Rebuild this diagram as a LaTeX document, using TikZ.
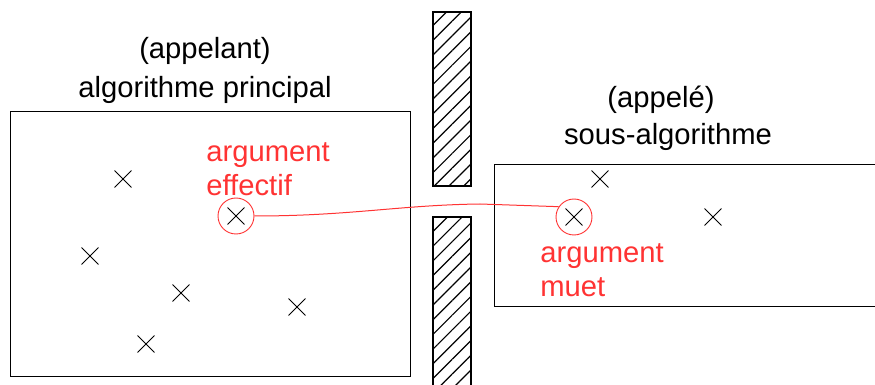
\documentclass[tikz,border=0pt]{standalone}
\usepackage{fontspec}
\setmainfont{Liberation Sans}
\usetikzlibrary{shapes.misc, patterns.meta}
\definecolor{ArgRed}{RGB}{255,51,51}

\begin{document}
\begin{tikzpicture}[x=0.5pt, y=-0.5pt,
          txt/.style={font=\fontsize{14.6}{17}\selectfont, inner sep=0pt},
          argtxt/.style={txt, text=ArgRed, anchor=base west},
          var/.style={cross out, draw, minimum size=8pt, inner sep=0pt,
                      line width=0.45pt},
          arg/.style={circle, draw=ArgRed, minimum size=18pt, inner sep=0pt,
                      line width=0.45pt},
          frame/.style={draw, line width=0.45pt},
          wall/.style={draw, line width=0.55pt,
                       pattern={Lines[angle=45, distance=5.2pt, line width=0.6pt]}}
        ]
        \useasboundingbox (0,0) rectangle (875,385);

        % Caller (left)
        \node[txt, anchor=base] (callerrole) at (205,59) {(appelant)};
        \node[txt, anchor=base] (callername) at (205,98) {algorithme principal};
        \draw[frame] (10,111) rectangle (410,376);
        \foreach \x/\y [count=\i] in {123/179, 90/256, 181/293, 297/307, 146/344} {
          \node[var] (pv\i) at (\x,\y) {};
        }
        \node[arg] (effarg) at (236,216) {};
        \node[var] (effvar) at (effarg) {};
        \node[argtxt] (efftxta) at (206,162) {argument};
        \node[argtxt] (efftxtb) at (206,196) {effectif};

        % Wall with opening
        \draw[wall] (433,12) rectangle (471,186);
        \draw[wall] (433,217) rectangle (471,392);

        % Callee (right)
        \node[txt, anchor=base] (calleerole) at (661,108) {(appelé)};
        \node[txt, anchor=base] (calleename) at (668,145) {sous-algorithme};
        \draw[frame] (880,164) -- (494,164) -- (494,306) -- (880,306);
        \node[var] (sv1) at (600,179) {};
        \node[var] (sv2) at (713,217) {};
        \node[arg] (mutarg) at (574,217) {};
        \node[var] (mutvar) at (mutarg) {};
        \node[argtxt] (muttxta) at (540,263) {argument};
        \node[argtxt] (muttxtb) at (540,297) {muet};

        % Passing the argument
        \coordinate (gap) at (480,204);
        \draw[ArgRed, line width=0.5pt] (effarg.east)
              .. controls (350,216) and (400,205) .. (gap) -- (mutarg.146);
      \end{tikzpicture}
\end{document}
